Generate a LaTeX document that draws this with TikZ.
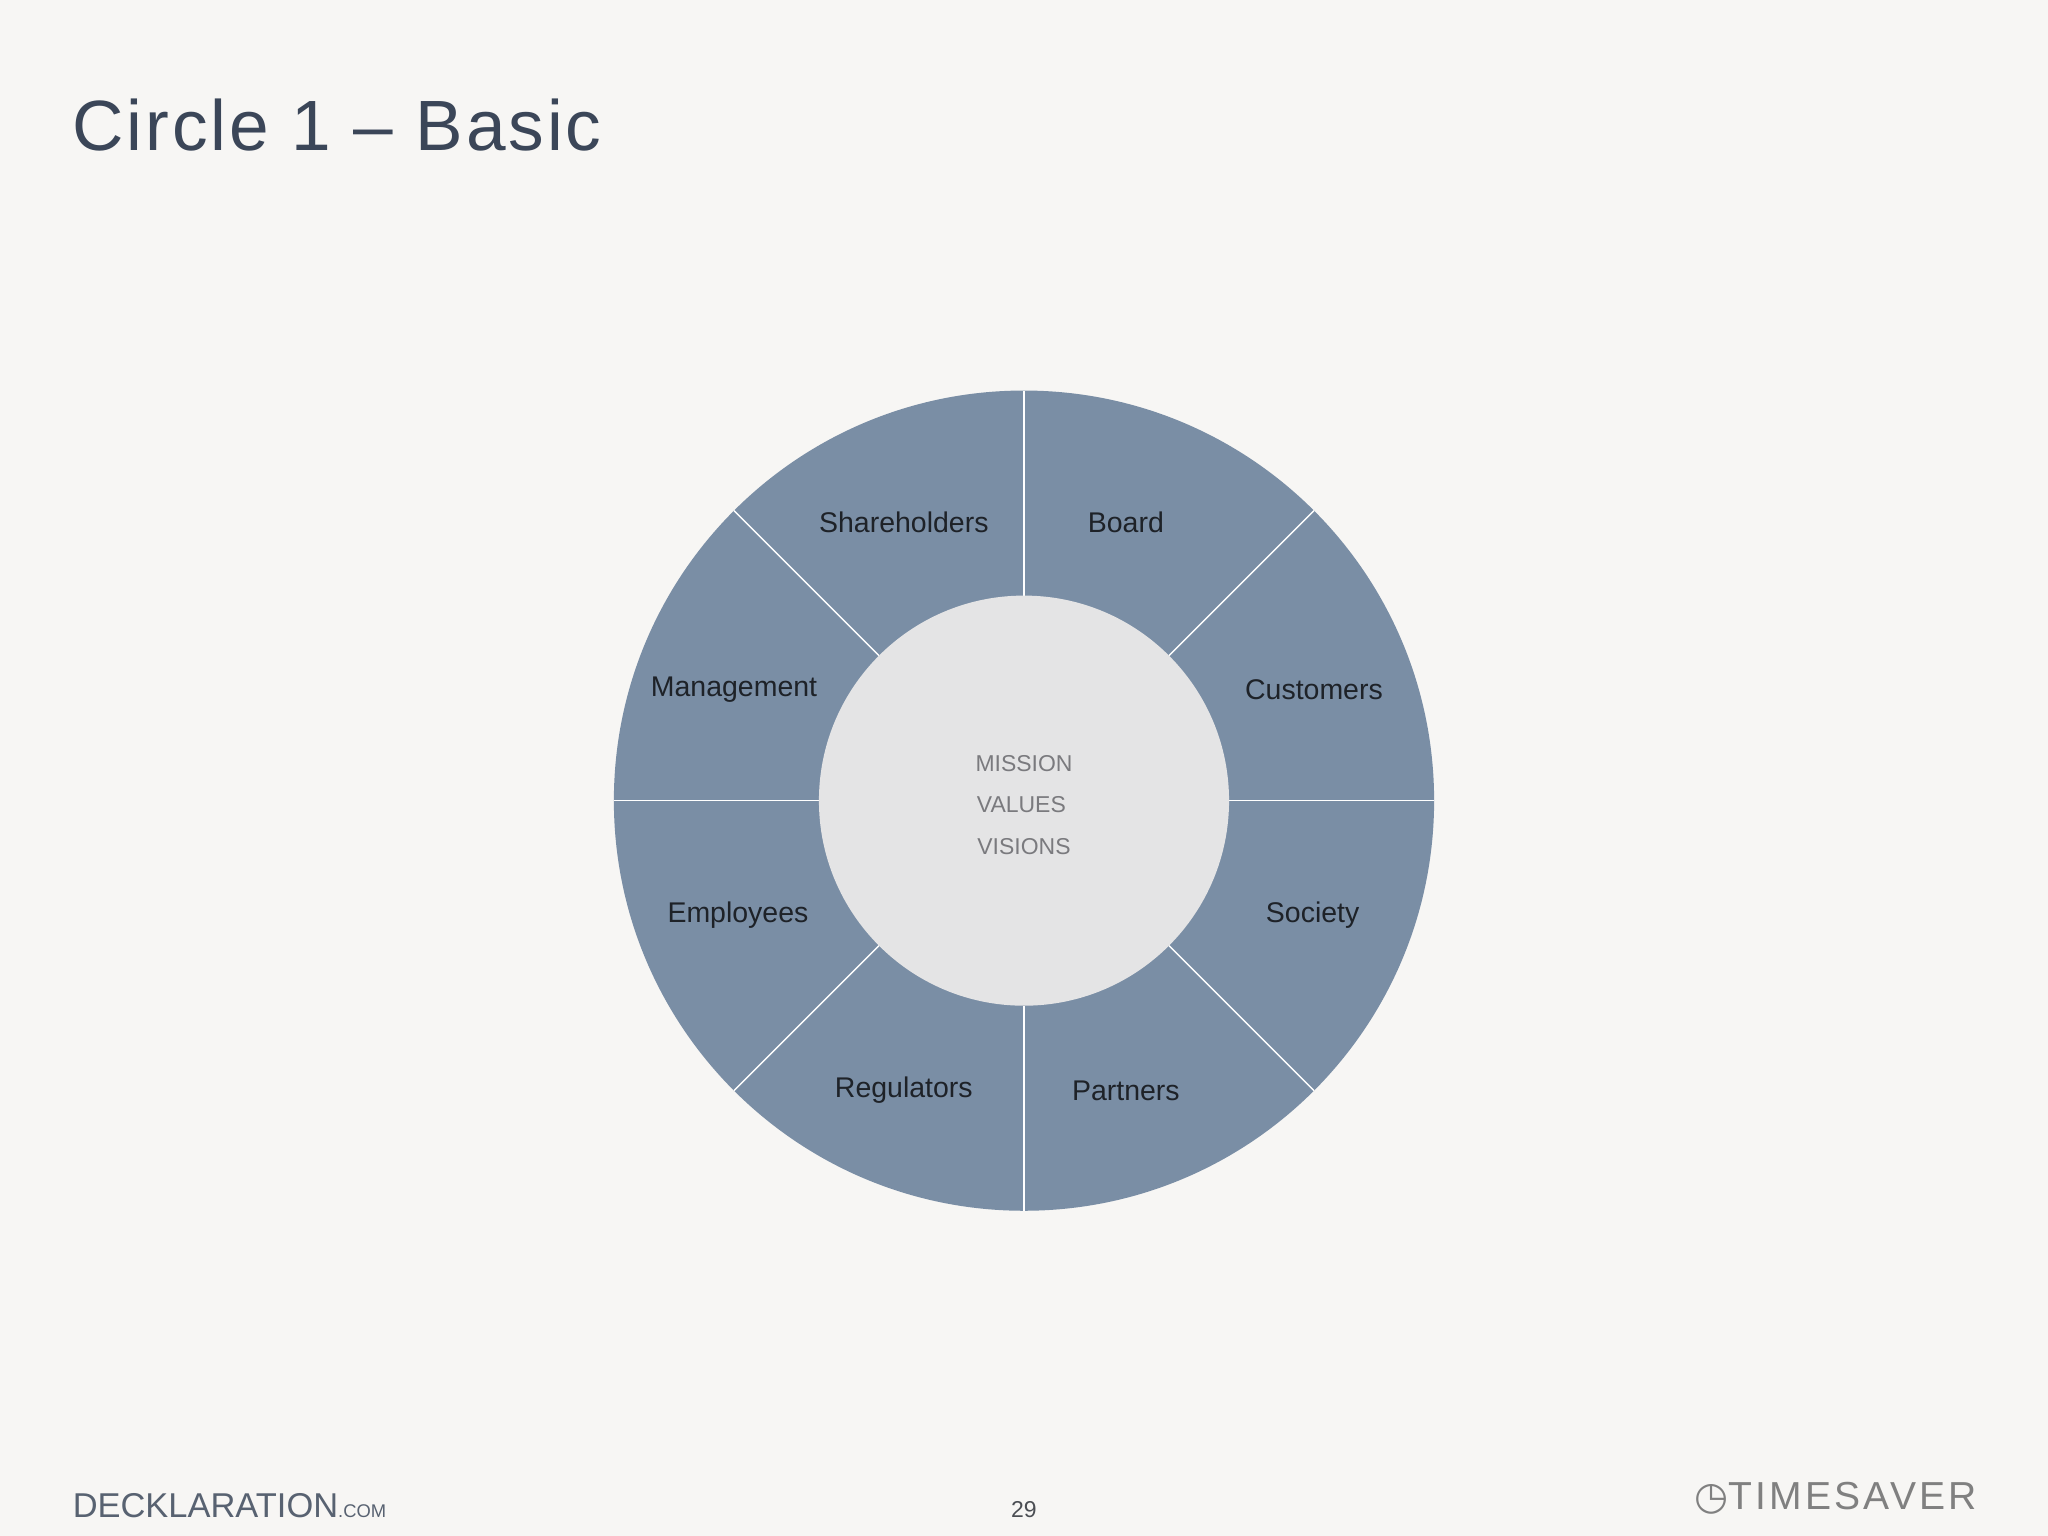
\documentclass[tikz,border=0pt]{standalone}
\usepackage{fontspec}
\usetikzlibrary{calc}
\setmainfont{Liberation Sans}
\definecolor{bg}{HTML}{F7F6F4}
\definecolor{ring}{HTML}{7A8EA5}
\definecolor{hub}{HTML}{E4E4E5}
\definecolor{title}{HTML}{3B4658}
\definecolor{lbl}{HTML}{1E2228}
\definecolor{ctr}{HTML}{7A7A7E}
\tikzset{seg/.style={font=\fontsize{6.2}{7}\selectfont,text=lbl},
  ctrtxt/.style={font=\fontsize{5}{6}\selectfont,text=ctr}}
\begin{document}
\begin{tikzpicture}[x=0.01cm,y=-0.01cm]
\fill[bg] (0,0) rectangle (1568,1176);
\useasboundingbox (0,0) rectangle (1568,1176);
\node[anchor=west,inner sep=0,font=\fontsize{15.5}{18}\selectfont\addfontfeature{LetterSpace=4},text=title] (t) at (55,96) {Circle 1 -- Basic};
\coordinate (c) at (784,613);
\fill[ring] (c) circle[radius=314];
\foreach \a in {0,45,...,315}
  \draw[white,line width=0.3pt] ($(c)+(\a:157)$) -- ($(c)+(\a:314)$);
\fill[hub] (c) circle[radius=157];
\node[seg] (sh) at (692,400) {Shareholders};
\node[seg] (bo) at (862,400) {Board};
\node[seg] (ma) at (562,528) {Management};
\node[seg] (cu) at (1006,528) {Customers};
\node[seg] (em) at (565,701) {Employees};
\node[seg] (so) at (1005,701) {Society};
\node[seg] (re) at (692,835) {Regulators};
\node[seg] (pa) at (862,835) {Partners};
\node[ctrtxt] (m) at (784,585) {MISSION};
\node[ctrtxt] (v) at (782,616) {VALUES};
\node[ctrtxt] (vi) at (784,648) {VISIONS};
\node[font=\fontsize{5}{6}\selectfont,text=lbl!80] (pg) at (784,1156) {29};
\node[anchor=west,inner sep=0,font=\fontsize{7.5}{8}\selectfont,text=title!85] (dk) at (55,1153) {DECKLARATION\fontsize{4}{5}\selectfont .COM};
\node[anchor=east,inner sep=0,font=\fontsize{8.5}{9}\selectfont\addfontfeature{LetterSpace=8},text=gray] (ts) at (1514,1147) {{\fontspec{DejaVu Sans}\char"25F7}TIMESAVER};
\end{tikzpicture}
\end{document}
